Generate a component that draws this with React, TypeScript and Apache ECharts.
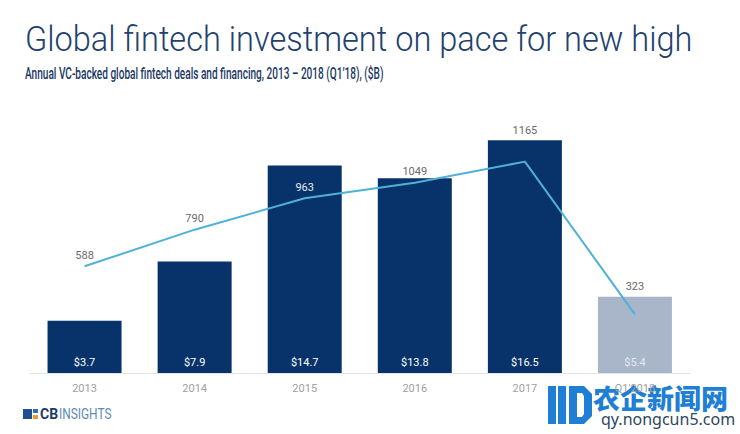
import React, { useEffect, useRef } from "react";
import * as echarts from "echarts";

const years = ["2013", "2014", "2015", "2016", "2017", "Q1'2018"];
const fundingB = [3.7, 7.9, 14.7, 13.8, 16.5, 5.4];
const deals = [588, 790, 963, 1049, 1165, 323];
const partialYear = [false, false, false, false, false, true];
// where the deal-count label sits: "point" = just above the line point, "bar" = above the bar top
const dealLabelAnchor = ["point", "point", "point", "point", "bar", "bar"];

const TITLE = "Global fintech investment on pace for new high";
const SUBTITLE = "Annual VC-backed global fintech deals and financing, 2013 \u2013 2018 (Q1\u201918), ($B)";

export default function App() {
  const ref = useRef<HTMLDivElement>(null);
  useEffect(() => {
    const chart = echarts.init(ref.current!, null, { renderer: "svg" });
    const option: any = {
      animation: false,
      backgroundColor: "#ffffff",
      grid: { left: 29.5, right: 50, top: 119, bottom: 61 },
      xAxis: {
        type: "category",
        data: years,
        axisLine: { show: true, lineStyle: { color: "#e3e3e3", width: 1 } },
        axisTick: { show: false },
        axisLabel: { color: "#a0a0a0", fontSize: 11, margin: 10, fontFamily: "Roboto" },
      },
      yAxis: [
        { type: "value", min: 0, max: 18, show: false, splitLine: { show: false } },
        { type: "value", min: 0, max: 1400, show: false, splitLine: { show: false } },
      ],
      series: [
        {
          type: "bar",
          yAxisIndex: 0,
          barWidth: 74,
          data: fundingB.map((v, i) => ({
            value: v,
            itemStyle: { color: partialYear[i] ? "#a9b6c9" : "#07336a" },
            label: { color: partialYear[i] ? "#e4e9f0" : "#ffffff" },
          })),
          label: {
            show: true,
            position: "insideBottom",
            distance: 5,
            fontSize: 11,
            fontFamily: "Roboto",
            formatter: (p: any) => "$" + p.value,
          },
          z: 2,
        },
        {
          type: "line",
          yAxisIndex: 1,
          data: deals,
          symbol: "circle",
          symbolSize: 1,
          showSymbol: true,
          itemStyle: { color: "rgba(0,0,0,0)", borderWidth: 0 },
          lineStyle: { color: "#4fb0d8", width: 2 },
          label: {
            show: true,
            position: "top",
            distance: 5,
            fontSize: 11,
            color: "#6a6a6a",
            fontFamily: "Roboto",
          },
          z: 3,
        },
      ],
      graphic: [
        {
          type: "text",
          x: 25,
          y: 22,
          scaleX: 0.93,
          style: {
            text: TITLE,
            font: "300 35px Roboto",
            fill: "#22426d",
          },
        },
        {
          type: "text",
          x: 25,
          y: 66,
          scaleX: 0.63,
          style: {
            text: SUBTITLE,
            font: "500 16px Roboto",
            fill: "#1a3866",
          },
        },
        // CB Insights logo
        { type: "rect", shape: { x: 23, y: 409, width: 9, height: 10 }, style: { fill: "#1d4f91" } },
        { type: "rect", shape: { x: 33, y: 409, width: 5, height: 4 }, style: { fill: "#2f6db5" } },
        { type: "rect", shape: { x: 33, y: 415, width: 5, height: 4 }, style: { fill: "#f0962a" } },
        {
          type: "text",
          x: 40,
          y: 407,
          style: { text: "CB", font: "bold 14px Roboto", fill: "#1b3a66" },
        },
        {
          type: "text",
          x: 59,
          y: 407,
          scaleX: 0.85,
          style: { text: "INSIGHTS", font: "400 14px Roboto", fill: "#5d8bb8" },
        },
        // watermark
        {
          type: "polygon",
          shape: { points: [[548, 386], [556, 386], [556, 424], [548, 424]] },
          style: { fill: "#1f7fd4" },
        },
        {
          type: "polygon",
          shape: { points: [[558, 386], [566, 386], [566, 424], [558, 424]] },
          style: { fill: "#1f7fd4" },
        },
        {
          type: "polygon",
          shape: { points: [[569, 386], [584, 386], [592, 394], [592, 416], [584, 424], [569, 424], [569, 417], [582, 417], [584, 414], [584, 396], [582, 393], [577, 393], [577, 417], [569, 417]] },
          style: { fill: "#1f7fd4" },
        },
        {
          type: "text",
          x: 593,
          y: 384,
          style: { text: "农企新闻网", font: "900 27px 'Noto Sans CJK SC'", fill: "#1f7fd4" },
        },
        {
          type: "text",
          x: 601,
          y: 411,
          style: { text: "qy.nongcun5.com", font: "400 16px 'Noto Sans'", fill: "#2d4760" },
        },
      ],
    };
    chart.setOption(option);
    const lineData = deals.map((d, i) => {
      const bar = chart.convertToPixel({ seriesIndex: 0 }, [i, fundingB[i]]) as number[];
      const pt = chart.convertToPixel({ seriesIndex: 1 }, [i, d]) as number[];
      if (dealLabelAnchor[i] === "bar") {
        return { value: d, label: { offset: [0, Math.min(0, bar[1] - pt[1] + 1)] } };
      }
      // label lies over a dark bar -> light text
      const insideBar = bar[1] < pt[1] - 20 && !partialYear[i];
      return insideBar ? { value: d, label: { color: "#e6ebf2" } } : d;
    });
    chart.setOption({ series: [{}, { data: lineData }] });
    return () => chart.dispose();
  }, []);
  return (
    <div
      ref={ref}
      style={{ position: "fixed", left: 0, top: 0, width: 740, height: 434 }}
    />
  );
}
